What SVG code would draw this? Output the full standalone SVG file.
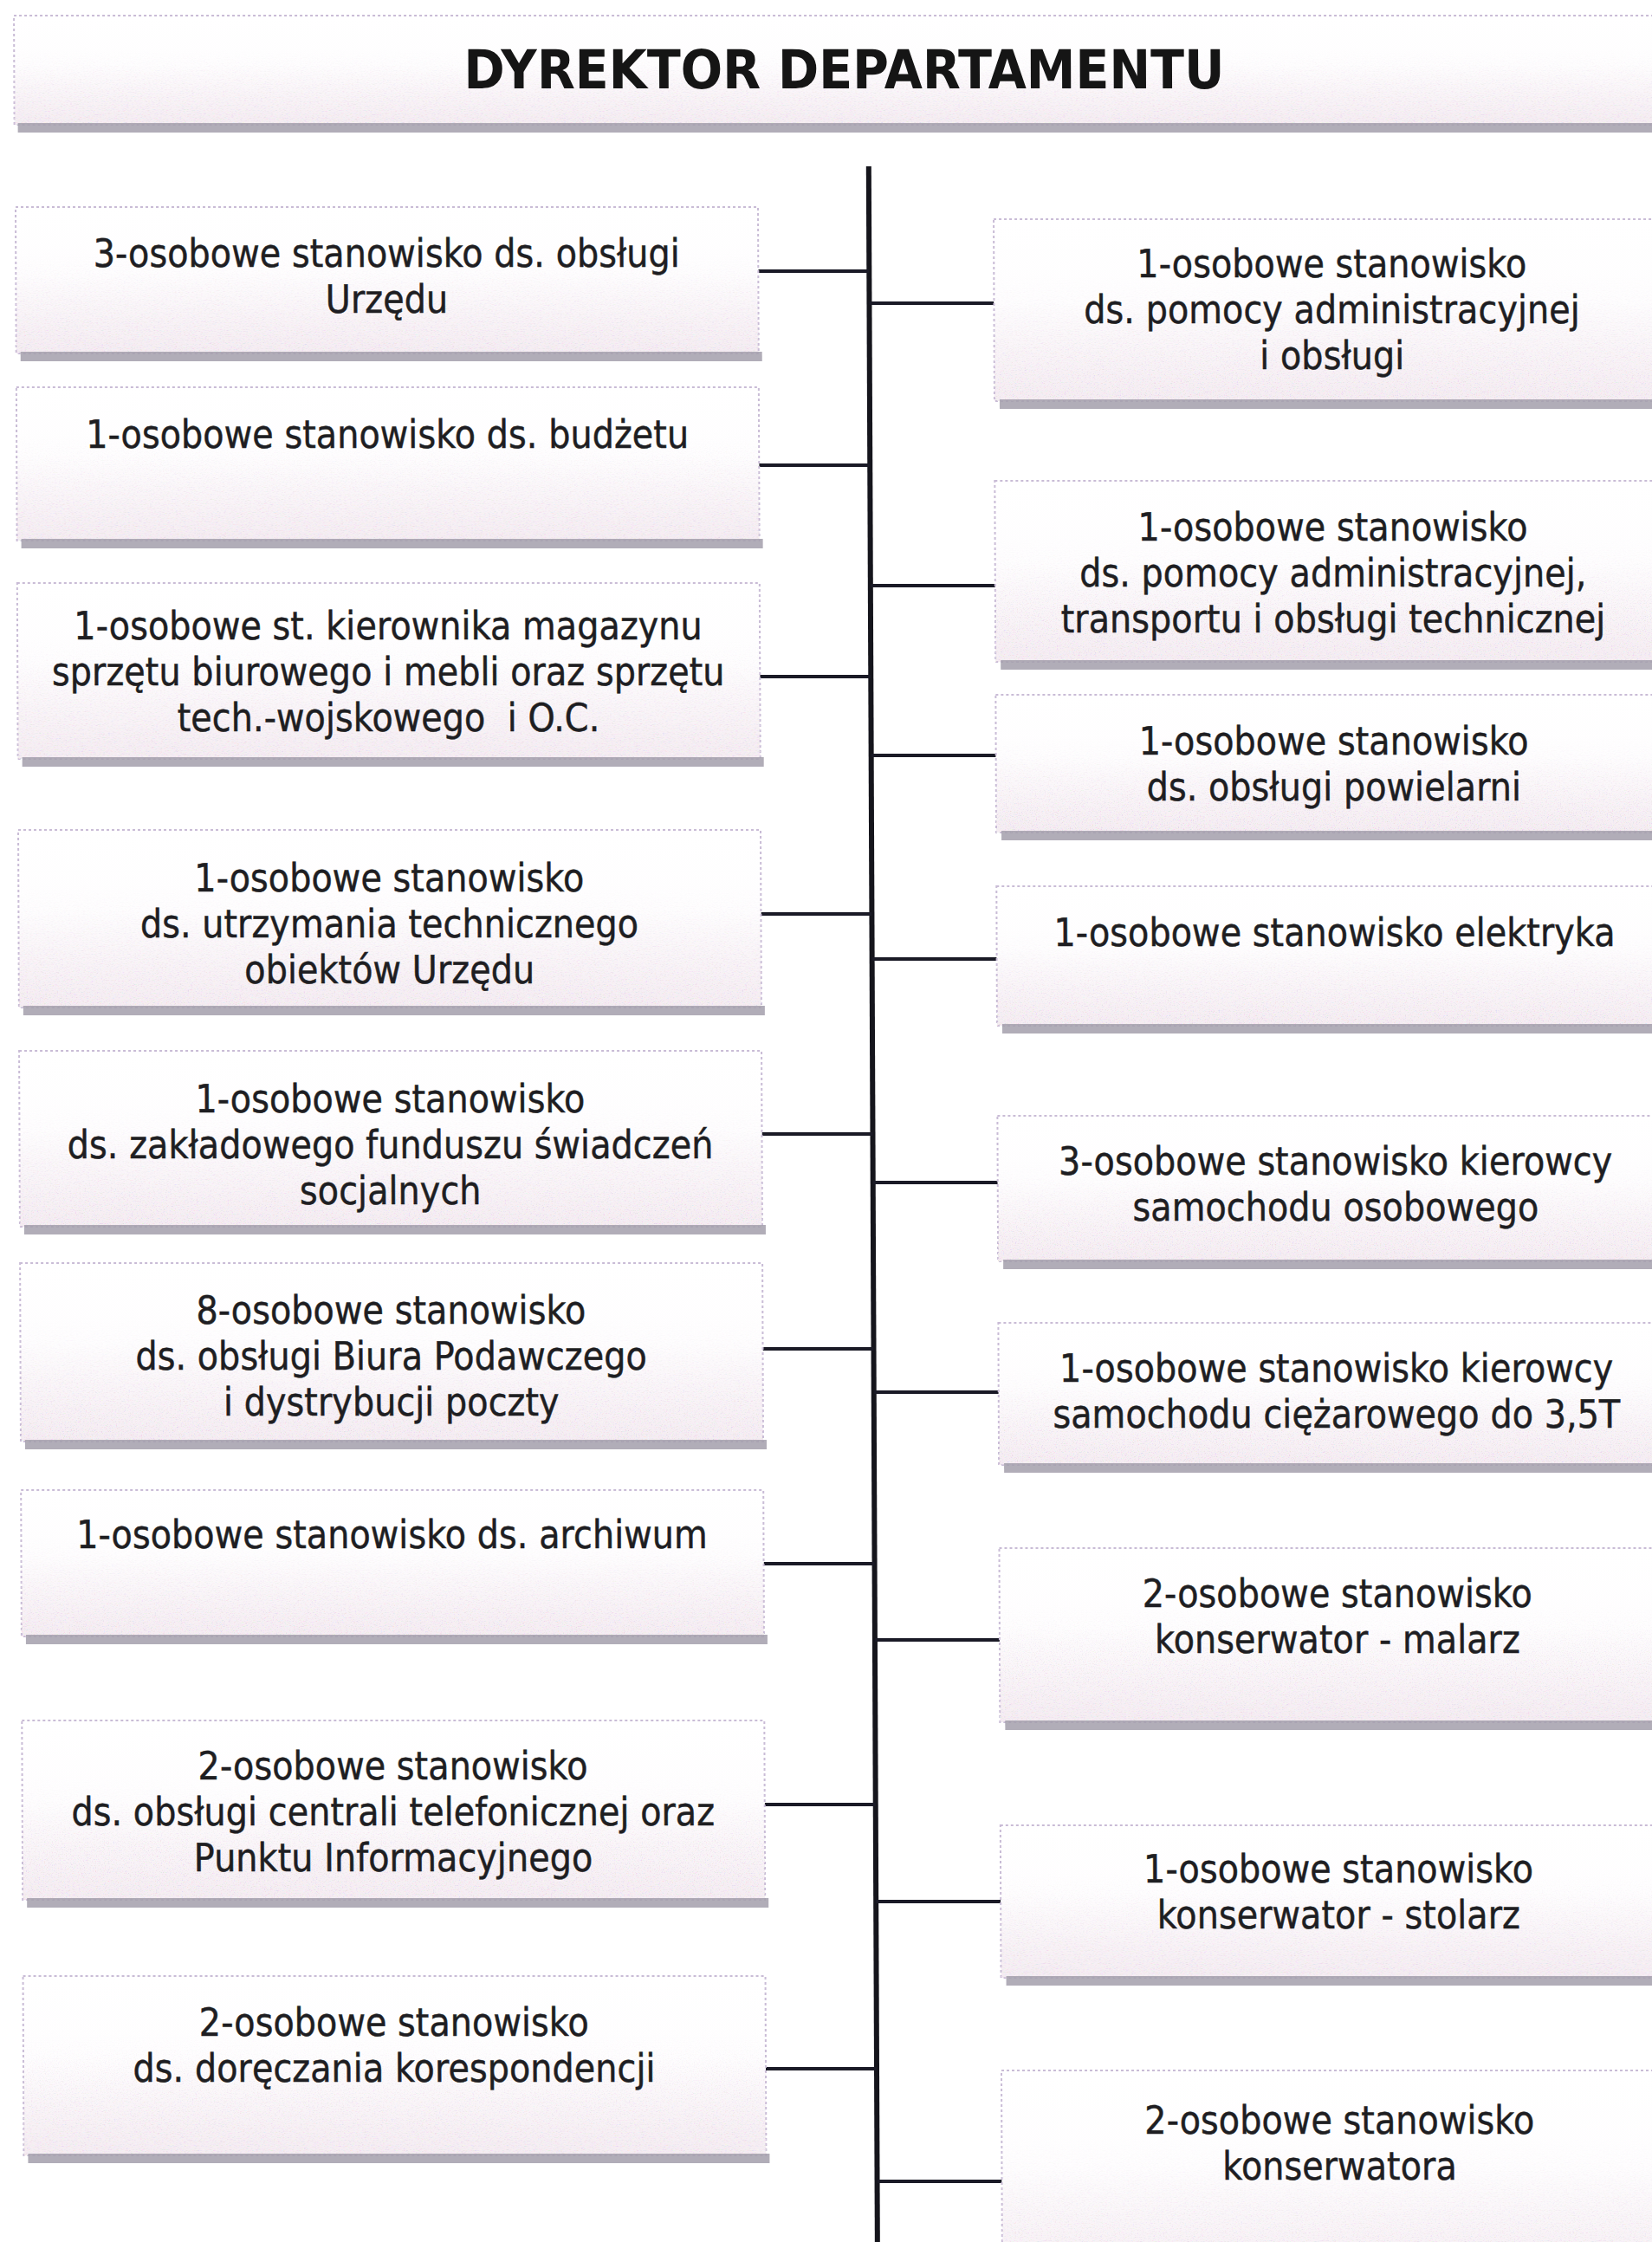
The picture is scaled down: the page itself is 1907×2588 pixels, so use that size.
<svg xmlns="http://www.w3.org/2000/svg" width="1907" height="2588" viewBox="0 0 1907 2588">
<style>
.bx{fill:url(#fill);stroke:#c9bcd6;stroke-width:2;stroke-dasharray:3 3}
.gr{fill:url(#fade)}
.sh{fill:#a39fab;opacity:0.85}
.t{font-family:"DejaVu Sans","Liberation Sans",sans-serif;font-size:45px;fill:#1e1e22;stroke:#1e1e22;stroke-width:0.5;text-anchor:middle}
.h{font-family:"DejaVu Sans","Liberation Sans",sans-serif;font-size:62px;font-weight:bold;fill:#151515;text-anchor:middle}
.ln{stroke:#1a1a26;stroke-width:4;fill:none}
.trunk{stroke:#15151c;stroke-width:6;fill:none}
</style>
<defs>
<linearGradient id="fill" x1="0" y1="0" x2="0" y2="1">
<stop offset="0" stop-color="#ffffff"/>
<stop offset="0.45" stop-color="#fefdfe"/>
<stop offset="1" stop-color="#f5ecf2"/>
</linearGradient>
<linearGradient id="fade" x1="0" y1="0" x2="0" y2="1">
<stop offset="0.3" stop-color="#fff" stop-opacity="0"/>
<stop offset="1" stop-color="#fff" stop-opacity="1"/>
</linearGradient>
<filter id="grain" x="0" y="0" width="100%" height="100%">
<feTurbulence type="fractalNoise" baseFrequency="0.8" numOctaves="2" seed="7" result="n"/>
<feColorMatrix in="n" type="matrix" values="0.6 0 0 0 0.55  0 0.6 0 0 0.5  0 0 0.6 0 0.55  0 0 0 5 -2.4" result="c"/>
<feComposite in="c" in2="SourceGraphic" operator="in"/>
</filter>
</defs>
<rect width="1907" height="2588" fill="#ffffff"/>
<g transform="skewX(0.24)">
<g id="header" class="node">
<rect class="bx" x="16" y="18" width="1920" height="126"/>
<rect class="gr" x="16" y="18" width="1920" height="126" filter="url(#grain)"/>
<rect class="sh" x="20" y="142" width="1920" height="11"/>
<text class="h" x="974" y="102" textLength="878" lengthAdjust="spacingAndGlyphs">DYREKTOR DEPARTAMENTU</text>
</g>
<g id="connectors">
<line class="trunk" x1="1002" y1="192" x2="1002" y2="2600"/>
<line class="ln" x1="874" y1="313" x2="1002" y2="313"/>
<line class="ln" x1="874" y1="537" x2="1002" y2="537"/>
<line class="ln" x1="874" y1="781" x2="1002" y2="781"/>
<line class="ln" x1="874" y1="1055" x2="1002" y2="1055"/>
<line class="ln" x1="874" y1="1309" x2="1002" y2="1309"/>
<line class="ln" x1="874" y1="1557" x2="1002" y2="1557"/>
<line class="ln" x1="874" y1="1805" x2="1002" y2="1805"/>
<line class="ln" x1="874" y1="2083" x2="1002" y2="2083"/>
<line class="ln" x1="874" y1="2388" x2="1002" y2="2388"/>
<line class="ln" x1="1002" y1="350" x2="1146" y2="350"/>
<line class="ln" x1="1002" y1="676" x2="1146" y2="676"/>
<line class="ln" x1="1002" y1="872" x2="1146" y2="872"/>
<line class="ln" x1="1002" y1="1107" x2="1146" y2="1107"/>
<line class="ln" x1="1002" y1="1365" x2="1146" y2="1365"/>
<line class="ln" x1="1002" y1="1607" x2="1146" y2="1607"/>
<line class="ln" x1="1002" y1="1893" x2="1146" y2="1893"/>
<line class="ln" x1="1002" y1="2195" x2="1146" y2="2195"/>
<line class="ln" x1="1002" y1="2518" x2="1146" y2="2518"/>
</g>
<g id="L1" class="node">
<rect class="bx" x="17" y="239" width="857" height="169"/>
<rect class="gr" x="17" y="239" width="857" height="169" filter="url(#grain)"/>
<rect class="sh" x="22" y="406" width="856" height="11"/>
<text class="t" transform="translate(445 0) scale(0.885 1)"><tspan x="0" y="308">3-osobowe stanowisko ds. obsługi</tspan><tspan x="0" y="361">Urzędu</tspan></text>
</g>
<g id="L2" class="node">
<rect class="bx" x="17" y="447" width="857" height="177"/>
<rect class="gr" x="17" y="447" width="857" height="177" filter="url(#grain)"/>
<rect class="sh" x="22" y="622" width="856" height="11"/>
<text class="t" transform="translate(445 0) scale(0.885 1)"><tspan x="0" y="517">1-osobowe stanowisko ds. budżetu</tspan></text>
</g>
<g id="L3" class="node">
<rect class="bx" x="17" y="673" width="857" height="203"/>
<rect class="gr" x="17" y="673" width="857" height="203" filter="url(#grain)"/>
<rect class="sh" x="22" y="874" width="856" height="11"/>
<text class="t" transform="translate(445 0) scale(0.885 1)"><tspan x="0" y="738">1-osobowe st. kierownika magazynu</tspan><tspan x="0" y="791">sprzętu biurowego i mebli oraz sprzętu</tspan><tspan x="0" y="844">tech.-wojskowego&#160; i O.C.</tspan></text>
</g>
<g id="L4" class="node">
<rect class="bx" x="17" y="958" width="857" height="205"/>
<rect class="gr" x="17" y="958" width="857" height="205" filter="url(#grain)"/>
<rect class="sh" x="22" y="1161" width="856" height="11"/>
<text class="t" transform="translate(445 0) scale(0.885 1)"><tspan x="0" y="1029">1-osobowe stanowisko</tspan><tspan x="0" y="1082">ds. utrzymania technicznego</tspan><tspan x="0" y="1135">obiektów Urzędu</tspan></text>
</g>
<g id="L5" class="node">
<rect class="bx" x="17" y="1213" width="857" height="203"/>
<rect class="gr" x="17" y="1213" width="857" height="203" filter="url(#grain)"/>
<rect class="sh" x="22" y="1414" width="856" height="11"/>
<text class="t" transform="translate(445 0) scale(0.885 1)"><tspan x="0" y="1284">1-osobowe stanowisko</tspan><tspan x="0" y="1337">ds. zakładowego funduszu świadczeń</tspan><tspan x="0" y="1390">socjalnych</tspan></text>
</g>
<g id="L6" class="node">
<rect class="bx" x="17" y="1458" width="857" height="206"/>
<rect class="gr" x="17" y="1458" width="857" height="206" filter="url(#grain)"/>
<rect class="sh" x="22" y="1662" width="856" height="11"/>
<text class="t" transform="translate(445 0) scale(0.885 1)"><tspan x="0" y="1528">8-osobowe stanowisko</tspan><tspan x="0" y="1581">ds. obsługi Biura Podawczego</tspan><tspan x="0" y="1634">i dystrybucji poczty</tspan></text>
</g>
<g id="L7" class="node">
<rect class="bx" x="17" y="1720" width="857" height="169"/>
<rect class="gr" x="17" y="1720" width="857" height="169" filter="url(#grain)"/>
<rect class="sh" x="22" y="1887" width="856" height="11"/>
<text class="t" transform="translate(445 0) scale(0.885 1)"><tspan x="0" y="1787">1-osobowe stanowisko ds. archiwum</tspan></text>
</g>
<g id="L8" class="node">
<rect class="bx" x="17" y="1986" width="857" height="207"/>
<rect class="gr" x="17" y="1986" width="857" height="207" filter="url(#grain)"/>
<rect class="sh" x="22" y="2191" width="856" height="11"/>
<text class="t" transform="translate(445 0) scale(0.885 1)"><tspan x="0" y="2054">2-osobowe stanowisko</tspan><tspan x="0" y="2107">ds. obsługi centrali telefonicznej oraz</tspan><tspan x="0" y="2160">Punktu Informacyjnego</tspan></text>
</g>
<g id="L9" class="node">
<rect class="bx" x="17" y="2281" width="857" height="207"/>
<rect class="gr" x="17" y="2281" width="857" height="207" filter="url(#grain)"/>
<rect class="sh" x="22" y="2486" width="856" height="11"/>
<text class="t" transform="translate(445 0) scale(0.885 1)"><tspan x="0" y="2350">2-osobowe stanowisko</tspan><tspan x="0" y="2403">ds. doręczania korespondencji</tspan></text>
</g>
<g id="R1" class="node">
<rect class="bx" x="1146" y="253" width="800" height="210"/>
<rect class="gr" x="1146" y="253" width="800" height="210" filter="url(#grain)"/>
<rect class="sh" x="1152" y="461" width="800" height="11"/>
<text class="t" transform="translate(1536 0) scale(0.885 1)"><tspan x="0" y="320">1-osobowe stanowisko</tspan><tspan x="0" y="373">ds. pomocy administracyjnej</tspan><tspan x="0" y="426">i obsługi</tspan></text>
</g>
<g id="R2" class="node">
<rect class="bx" x="1146" y="555" width="800" height="209"/>
<rect class="gr" x="1146" y="555" width="800" height="209" filter="url(#grain)"/>
<rect class="sh" x="1152" y="762" width="800" height="11"/>
<text class="t" transform="translate(1536 0) scale(0.885 1)"><tspan x="0" y="624">1-osobowe stanowisko</tspan><tspan x="0" y="677">ds. pomocy administracyjnej,</tspan><tspan x="0" y="730">transportu i obsługi technicznej</tspan></text>
</g>
<g id="R3" class="node">
<rect class="bx" x="1146" y="802" width="800" height="159"/>
<rect class="gr" x="1146" y="802" width="800" height="159" filter="url(#grain)"/>
<rect class="sh" x="1152" y="959" width="800" height="11"/>
<text class="t" transform="translate(1536 0) scale(0.885 1)"><tspan x="0" y="871">1-osobowe stanowisko</tspan><tspan x="0" y="924">ds. obsługi powielarni</tspan></text>
</g>
<g id="R4" class="node">
<rect class="bx" x="1146" y="1023" width="800" height="161"/>
<rect class="gr" x="1146" y="1023" width="800" height="161" filter="url(#grain)"/>
<rect class="sh" x="1152" y="1182" width="800" height="11"/>
<text class="t" transform="translate(1536 0) scale(0.885 1)"><tspan x="0" y="1092">1-osobowe stanowisko elektryka</tspan></text>
</g>
<g id="R5" class="node">
<rect class="bx" x="1146" y="1288" width="800" height="168"/>
<rect class="gr" x="1146" y="1288" width="800" height="168" filter="url(#grain)"/>
<rect class="sh" x="1152" y="1454" width="800" height="11"/>
<text class="t" transform="translate(1536 0) scale(0.885 1)"><tspan x="0" y="1356">3-osobowe stanowisko kierowcy</tspan><tspan x="0" y="1409">samochodu osobowego</tspan></text>
</g>
<g id="R6" class="node">
<rect class="bx" x="1146" y="1527" width="800" height="164"/>
<rect class="gr" x="1146" y="1527" width="800" height="164" filter="url(#grain)"/>
<rect class="sh" x="1152" y="1689" width="800" height="11"/>
<text class="t" transform="translate(1536 0) scale(0.885 1)"><tspan x="0" y="1595">1-osobowe stanowisko kierowcy</tspan><tspan x="0" y="1648">samochodu ciężarowego do 3,5T</tspan></text>
</g>
<g id="R7" class="node">
<rect class="bx" x="1146" y="1787" width="800" height="201"/>
<rect class="gr" x="1146" y="1787" width="800" height="201" filter="url(#grain)"/>
<rect class="sh" x="1152" y="1986" width="800" height="11"/>
<text class="t" transform="translate(1536 0) scale(0.885 1)"><tspan x="0" y="1855">2-osobowe stanowisko</tspan><tspan x="0" y="1908">konserwator - malarz</tspan></text>
</g>
<g id="R8" class="node">
<rect class="bx" x="1146" y="2107" width="800" height="176"/>
<rect class="gr" x="1146" y="2107" width="800" height="176" filter="url(#grain)"/>
<rect class="sh" x="1152" y="2281" width="800" height="11"/>
<text class="t" transform="translate(1536 0) scale(0.885 1)"><tspan x="0" y="2173">1-osobowe stanowisko</tspan><tspan x="0" y="2226">konserwator - stolarz</tspan></text>
</g>
<g id="R9" class="node">
<rect class="bx" x="1146" y="2390" width="800" height="250"/>
<rect class="gr" x="1146" y="2390" width="800" height="250" filter="url(#grain)"/>
<text class="t" transform="translate(1536 0) scale(0.885 1)"><tspan x="0" y="2463">2-osobowe stanowisko</tspan><tspan x="0" y="2516">konserwatora</tspan></text>
</g>
</g>
</svg>
